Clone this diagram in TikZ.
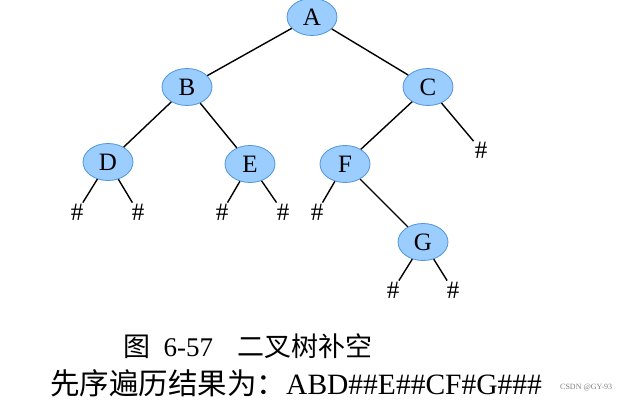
\documentclass[tikz,border=0pt]{standalone}
\usepackage{fontspec}
\setmainfont{Liberation Serif}
\newfontfamily\cjk{Noto Sans CJK SC}
\usetikzlibrary{shapes.geometric}
\definecolor{nfill}{RGB}{155,205,255}
\definecolor{nline}{RGB}{80,150,220}
\begin{document}
\begin{tikzpicture}[x=1pt,y=-1pt,
 tn/.style={ellipse,draw=nline,line width=0.8pt,fill=nfill,minimum width=50pt,minimum height=37pt,inner sep=0pt,font=\fontsize{25}{25}\selectfont},
 hs/.style={inner sep=1pt,font=\fontsize{25}{25}\selectfont},
 ed/.style={line width=1.4pt}]
\useasboundingbox (0,0) rectangle (639,403);
\fill[white] (0,0) rectangle (639,403);
\node[tn] (A) at (312,17) {A};
\node[tn] (B) at (187,87) {B};
\node[tn] (C) at (428,87) {C};
\node[tn] (D) at (108,162) {D};
\node[tn] (E) at (250,164) {E};
\node[tn] (F) at (345,164) {F};
\node[tn] (G) at (423,242) {G};
\node[hs] (d1) at (77,212) {\#};
\node[hs] (d2) at (138,212) {\#};
\node[hs] (e1) at (222,212) {\#};
\node[hs] (e2) at (283,212) {\#};
\node[hs] (f1) at (317,212) {\#};
\node[hs] (c2) at (481,150) {\#};
\node[hs] (g1) at (393,290) {\#};
\node[hs] (g2) at (453,290) {\#};
\draw[ed] (A)--(B); \draw[ed] (A)--(C);
\draw[ed] (B)--(D); \draw[ed] (B)--(E);
\draw[ed] (C)--(F); \draw[ed] (C)--(c2);
\draw[ed] (F)--(G);
\draw[ed] (D)--(d1); \draw[ed] (D)--(d2);
\draw[ed] (E)--(e1); \draw[ed] (E)--(e2);
\draw[ed] (F)--(f1);
\draw[ed] (G)--(g1); \draw[ed] (G)--(g2);
\node[anchor=west,inner sep=0pt,font=\fontsize{27}{27}\selectfont] (cap) at (123,346) {{\cjk 图}\hspace{0.5em}6-57\hspace{0.9em}{\cjk 二叉树补空}};
\node[anchor=west,inner sep=0pt,font=\fontsize{29.5}{29.5}\selectfont] (res) at (50,383) {{\cjk 先序遍历结果为：}ABD\#\#E\#\#CF\#G\#\#\#};
\node[anchor=west,inner sep=0pt,font=\fontsize{8}{8}\selectfont,text=gray] (wm) at (560,388) {CSDN @GY-93};
\end{tikzpicture}
\end{document}
